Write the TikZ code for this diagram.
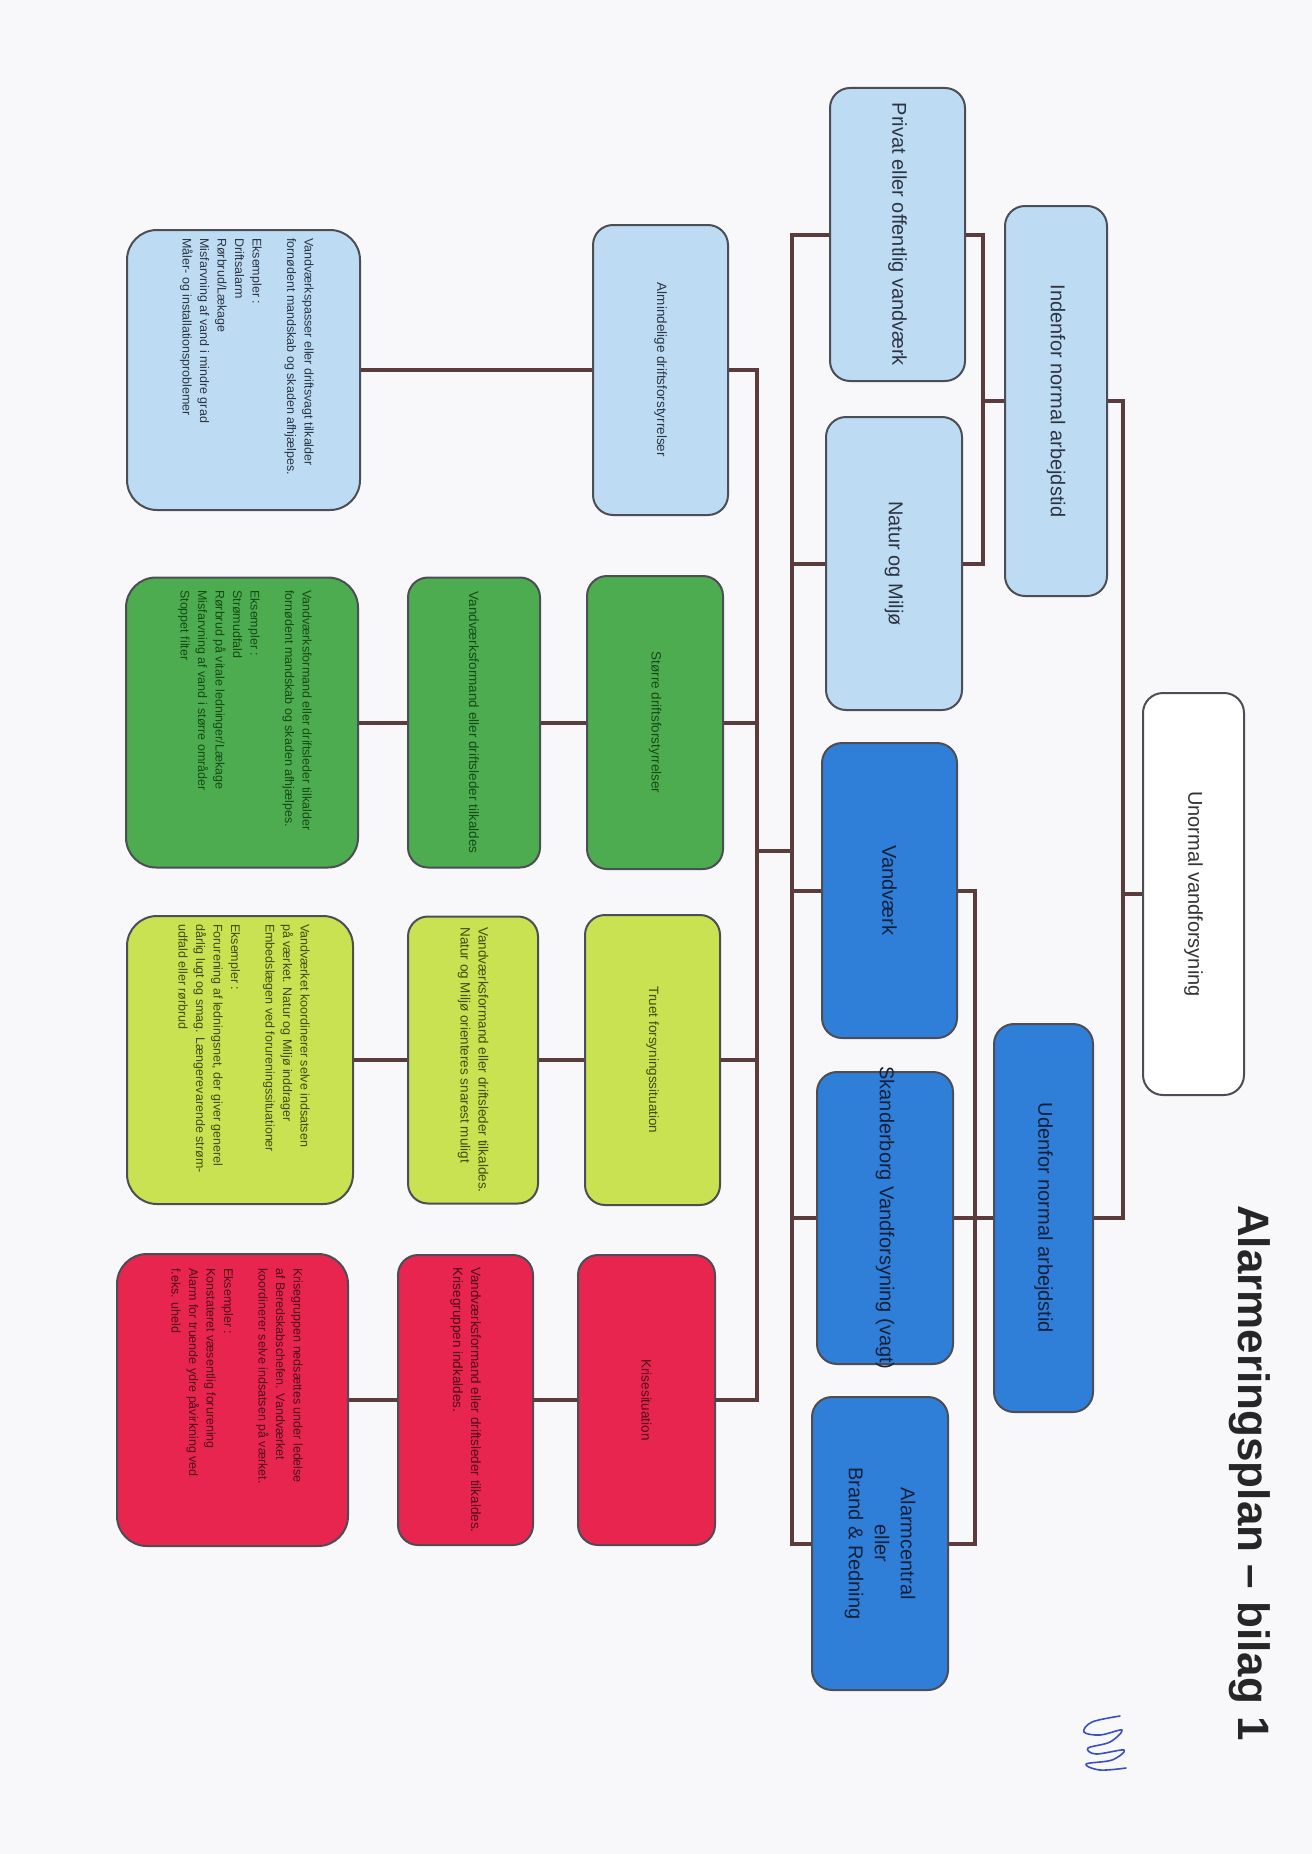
\documentclass[tikz,border=0pt]{standalone}
\usepackage{fontspec}
\setmainfont{Liberation Sans}
\definecolor{bg}{HTML}{F8F8FB}
\definecolor{lblue}{HTML}{BDDCF4}
\definecolor{dblue}{HTML}{2F7FD8}
\definecolor{grn}{HTML}{4CAC4F}
\definecolor{ylw}{HTML}{C8E252}
\definecolor{redbox}{HTML}{E8254F}
\definecolor{lbtext}{HTML}{2E3440}
\definecolor{dbtext}{HTML}{14203A}
\definecolor{grntext}{HTML}{174A17}
\definecolor{ylwtext}{HTML}{3F4A0C}
\definecolor{redtext}{HTML}{4E0818}
\definecolor{boxline}{HTML}{4D4D55}
\definecolor{connc}{HTML}{5B3B3B}
\definecolor{sigc}{HTML}{3B4FC0}
\begin{document}
\begin{tikzpicture}[x=1pt,y=-1pt,
  box/.style={draw=boxline, line width=2pt, rounded corners=20pt, rotate=-90, inner sep=0pt, align=center},
  lb/.style={box, fill=lblue, text=lbtext},
  db/.style={box, fill=dblue, text=dbtext},
  gb/.style={box, fill=grn, text=grntext},
  yb/.style={box, fill=ylw, text=ylwtext},
  rb/.style={box, fill=redbox, text=redtext},
  wb/.style={box, fill=white, text=black!80},
  big/.style={font=\fontsize{20}{26}\selectfont},
  cat/.style={font=\fontsize{13.5}{18}\selectfont},
  descbox/.style={rounded corners=30pt},
  desc/.style={rotate=-90, anchor=north west, align=left, inner sep=0pt, font=\fontsize{12.5}{17.5}\selectfont},
  conn/.style={draw=connc, line width=4pt},
  sig/.style={draw=sigc, line width=1.6pt, line cap=round, line join=round}]
\fill[bg] (0,0) rectangle (1312,1854);
\useasboundingbox (0,0) rectangle (1312,1854);

% title
\node[rotate=-90, anchor=west, inner sep=0pt, text=black!85,
  font=\bfseries\fontsize{44}{50}\selectfont] (title) at (1250,1205) {Alarmeringsplan – bilag 1};

% level 1
\node[wb, big, minimum width=402pt, minimum height=101pt] (unormal) at (1193.5,894) {Unormal vandforsyning};
% level 2
\node[lb, big, minimum width=390pt, minimum height=102pt] (indenfor) at (1056,401) {Indenfor normal arbejdstid};
\node[db, big, minimum width=388pt, minimum height=99pt] (udenfor) at (1043.5,1218) {Udenfor normal arbejdstid};
% level 3
\node[lb, big, minimum width=293pt, minimum height=135pt] (privat) at (897.5,234.5) {Privat eller offentlig vandværk};
\node[lb, big, minimum width=293pt, minimum height=136pt] (natur) at (894,563.5) {Natur og Miljø};
\node[db, big, minimum width=295pt, minimum height=135pt] (vandvaerk) at (889.5,890.5) {Vandværk};
\node[db, big, minimum width=292pt, minimum height=136pt] (skanderborg) at (885,1218) {\makebox[0pt]{Skanderborg Vandforsyning (vagt)}};
\node[db, big, minimum width=293pt, minimum height=136pt] (alarm) at (880,1543.5) {Alarmcentral\\eller\\Brand \& Redning};

% level 4
\node[lb, cat, minimum width=290pt, minimum height=135pt] (alm) at (660.5,370) {Almindelige driftsforstyrrelser};
\node[gb, cat, minimum width=293pt, minimum height=136pt] (stor) at (655,722.5) {Større driftsforstyrrelser};
\node[yb, cat, minimum width=290pt, minimum height=135pt] (truet) at (652.5,1060) {Truet forsyningssituation};
\node[rb, cat, minimum width=290pt, minimum height=137pt] (krise) at (646.5,1400) {Krisesituation};

% level 5
\node[gb, cat, minimum width=290pt, minimum height=132pt] (stor2) at (474,722.5) {Vandværksformand eller driftsleder tilkaldes};
\node[yb, cat, minimum width=287pt, minimum height=130pt, align=left] (truet2) at (473,1060) {Vandværksformand eller driftsleder tilkaldes.\\Natur og Miljø orienteres snarest muligt};
\node[rb, cat, minimum width=290pt, minimum height=135pt, align=left] (krise2) at (465.5,1400) {Vandværksformand eller driftsleder tilkaldes.\\Krisegruppen indkaldes.\hspace{95pt}};

% level 6 description boxes
\node[lb, descbox, minimum width=280pt, minimum height=233pt] (alm3) at (243.5,370) {};
\node[gb, descbox, minimum width=290pt, minimum height=232pt] (stor3) at (242,722.5) {};
\node[yb, descbox, minimum width=288pt, minimum height=226pt] (truet3) at (240,1060) {};
\node[rb, descbox, minimum width=292pt, minimum height=231pt] (krise3) at (232.5,1400) {};

\node[desc, text=lbtext] (alm3t) at (314,238) {Vandværkspasser eller driftsvagt tilkalder\\fornødent mandskab og skaden afhjælpes.\\[17pt]Eksempler :\\Driftsalarm\\Rørbrud/Lækage\\Misfarvning af vand i mindre grad\\Måler- og installationsproblemer};
\node[desc, text=grntext] (stor3t) at (312,590) {Vandværksformand eller driftsleder tilkalder\\fornødent mandskab og skaden afhjælpes.\\[17pt]Eksempler :\\Strømudfald\\Rørbrud på vitale ledninger/Lækage\\Misfarvning af vand i større områder\\Stoppet filter};
\node[desc, text=ylwtext] (truet3t) at (310,924) {Vandværket koordinerer selve indsatsen\\på værket. Natur og Miljø inddrager\\Embedslægen ved forureningssituationer\\[17pt]Eksempler :\\Forurening af ledningsnet, der giver generel\\dårlig lugt og smag. Længerevarende strøm-\\udfald eller rørbrud};
\node[desc, text=redtext] (krise3t) at (303,1268) {Krisegruppen nedsættes under ledelse\\af Beredskabschefen. Vandværket\\koordinerer selve indsatsen på værket.\\[17pt]Eksempler :\\Konstateret væsentlig forurening\\Alarm for truende ydre påvirkning ved\\f.eks. uheld};

% connectors
\coordinate (A0) at (1123,894);
\coordinate (A1) at (1123,401);
\coordinate (A2) at (1123,1218);
\draw[conn] (unormal.south) -- (A0);
\draw[conn] (indenfor.north) -- (A1) -- (A2) -- (udenfor.north);

\coordinate (B0) at (983,401);
\coordinate (B1) at (983,234.5);
\coordinate (B2) at (983,563.5);
\draw[conn] (indenfor.south) -- (B0);
\draw[conn] (privat.north) -- (B1) -- (B2) -- (natur.north);

\coordinate (C1) at (975,890.5);
\coordinate (C3) at (975,1543.5);
\draw[conn] (vandvaerk.north) -- (C1) -- (C3) -- (alarm.north);
\draw[conn] (udenfor.south) -- (skanderborg.north);

\coordinate (D1) at (792,234.5);
\coordinate (D5) at (792,1543.5);
\draw[conn] (privat.south) -- (D1) -- (D5) -- (alarm.south);
\draw[conn] (natur.south) -- (natur.south -| D1);
\draw[conn] (vandvaerk.south) -- (vandvaerk.south -| D1);
\draw[conn] (skanderborg.south) -- (skanderborg.south -| D1);

\coordinate (E1) at (757,370);
\coordinate (E4) at (757,1400);
\coordinate (DE) at (792,851);
\draw[conn] (alm.north) -- (E1) -- (E4) -- (krise.north);
\draw[conn] (stor.north) -- (stor.north -| E1);
\draw[conn] (truet.north) -- (truet.north -| E1);
\draw[conn] (DE) -- (DE -| E1);

\draw[conn] (alm.south) -- (alm.south -| alm3.north);
\draw[conn] (stor.south) -- (stor2.north);
\draw[conn] (stor2.south) -- (stor3.north);
\draw[conn] (truet.south) -- (truet2.north);
\draw[conn] (truet2.south) -- (truet3.north);
\draw[conn] (krise.south) -- (krise2.north);
\draw[conn] (krise2.south) -- (krise3.north);

% signature
\draw[sig] plot[smooth, tension=0.6] coordinates {(1120,1716) (1092,1722) (1084,1732) (1100,1735) (1122,1730) (1110,1742) (1088,1748) (1096,1754) (1124,1750) (1112,1760) (1086,1764) (1100,1770) (1126,1768)};
\end{tikzpicture}
\end{document}
